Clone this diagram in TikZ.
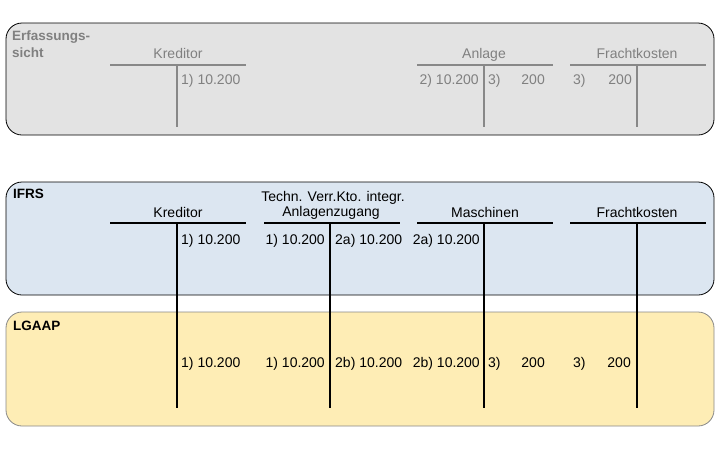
\documentclass[tikz,border=0pt]{standalone}
\usepackage{fontspec}
\setmainfont{Liberation Sans}
\usepackage{tikz}
\usetikzlibrary{positioning}
\definecolor{boxgray}{RGB}{227,227,227}
\definecolor{boxblue}{RGB}{220,230,241}
\definecolor{boxyellow}{RGB}{254,237,181}
\definecolor{txtgray}{RGB}{128,128,128}
\definecolor{linegray}{RGB}{136,136,136}

\begin{document}
\begin{tikzpicture}
  [x=1pt,y=-1pt,every node/.style={inner sep=0pt,font=\fontsize{14}{16}\selectfont},
   lbl/.style={anchor=base west,font=\fontsize{13.5}{16}\selectfont\bfseries},
   title/.style={anchor=base},
   lft/.style={anchor=base east},
   rgt/.style={anchor=base west},
   tline/.style={line width=2pt},
   band/.style={rounded corners=16pt,line width=0.8pt}]
  \useasboundingbox (0,0) rectangle (720,453);

  % bands
  \draw[band,fill=boxgray] (6,23) rectangle (714,135);
  \draw[band,fill=boxblue] (6,182) rectangle (714,295);
  \draw[band,draw=linegray,fill=boxyellow] (6,312) rectangle (714,426);

  % Erfassungssicht
  \node[lbl,text=txtgray] (erf1) at (12,40) {Erfassungs-};
  \node[lbl,text=txtgray] (erf2) at (12,57) {sicht};
  \node[title,text=txtgray] (eKred) at (178,58) {Kreditor};
  \node[title,text=txtgray] (eAnl) at (484,58) {Anlage};
  \node[title,text=txtgray] (eFra) at (637,58) {Frachtkosten};
  \coordinate (eKredL) at (110,65); \coordinate (eKredR) at (246,65);
  \coordinate (eKredT) at (177,65); \coordinate (eKredB) at (177,127);
  \coordinate (eAnlL) at (417,65);  \coordinate (eAnlR) at (553,65);
  \coordinate (eAnlT) at (484,65);  \coordinate (eAnlB) at (484,127);
  \coordinate (eFraL) at (570,65);  \coordinate (eFraR) at (706,65);
  \coordinate (eFraT) at (637,65);  \coordinate (eFraB) at (637,127);
  \draw[tline,linegray] (eKredL) -- (eKredR);
  \draw[tline,linegray] (eKredT) -- (eKredB);
  \draw[tline,linegray] (eAnlL) -- (eAnlR);
  \draw[tline,linegray] (eAnlT) -- (eAnlB);
  \draw[tline,linegray] (eFraL) -- (eFraR);
  \draw[tline,linegray] (eFraT) -- (eFraB);
  \node[rgt,text=txtgray] (eK1) at (181,84) {1) 10.200};
  \node[lft,text=txtgray] (eA2) at (479,84) {2) 10.200};
  \node[rgt,text=txtgray] (eA3) at (488,84) {3)};
  \node[lft,text=txtgray] (eA3v) at (545,84) {200};
  \node[rgt,text=txtgray] (eF3) at (573,84) {3)};
  \node[lft,text=txtgray] (eF3v) at (632,84) {200};

  % IFRS
  \node[lbl] (ifrs) at (13,198) {IFRS};
  \node[title] (iKred) at (178,217) {Kreditor};
  \node[title] (iTech1) at (333,201) {Techn. Verr.Kto. integr.};
  \node[title] (iTech2) at (331,216) {Anlagenzugang};
  \node[title] (iMas) at (485,217) {Maschinen};
  \node[title] (iFra) at (637,217) {Frachtkosten};
  \coordinate (iKredL) at (110,222.5); \coordinate (iKredR) at (246,222.5);
  \coordinate (iKredT) at (177,222.5); \coordinate (iKredB) at (177,408);
  \coordinate (iTechL) at (264,222.5); \coordinate (iTechR) at (400,222.5);
  \coordinate (iTechT) at (330,222.5); \coordinate (iTechB) at (330,408);
  \coordinate (iMasL) at (417,222.5);  \coordinate (iMasR) at (553,222.5);
  \coordinate (iMasT) at (484,222.5);  \coordinate (iMasB) at (484,408);
  \coordinate (iFraL) at (570,222.5);  \coordinate (iFraR) at (706,222.5);
  \coordinate (iFraT) at (637,222.5);  \coordinate (iFraB) at (637,408);
  \draw[tline] (iKredL) -- (iKredR);
  \draw[tline] (iKredT) -- (iKredB);
  \draw[tline] (iTechL) -- (iTechR);
  \draw[tline] (iTechT) -- (iTechB);
  \draw[tline] (iMasL) -- (iMasR);
  \draw[tline] (iMasT) -- (iMasB);
  \draw[tline] (iFraL) -- (iFraR);
  \draw[tline] (iFraT) -- (iFraB);
  \node[rgt] (iK1) at (181,244) {1) 10.200};
  \node[lft] (iT1) at (325,244) {1) 10.200};
  \node[rgt] (iT2) at (335,244) {2a) 10.200};
  \node[lft] (iM2) at (480,244) {2a) 10.200};

  % LGAAP
  \node[lbl] (lgaap) at (13,330) {LGAAP};
  \node[rgt] (lK1) at (181,367) {1) 10.200};
  \node[lft] (lT1) at (325,367) {1) 10.200};
  \node[rgt] (lT2) at (335,367) {2b) 10.200};
  \node[lft] (lM2) at (480,367) {2b) 10.200};
  \node[rgt] (lM3) at (488,367) {3)};
  \node[lft] (lM3v) at (545,367) {200};
  \node[rgt] (lF3) at (573,367) {3)};
  \node[lft] (lF3v) at (631,367) {200};
\end{tikzpicture}
\end{document}
